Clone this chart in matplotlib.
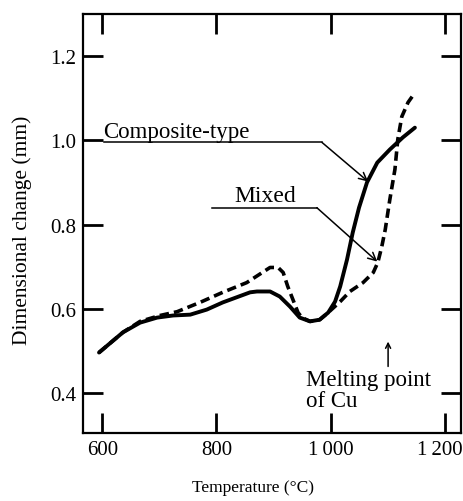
import matplotlib
matplotlib.use("Agg")
import matplotlib.pyplot as plt
import matplotlib.transforms as mtransforms

plt.rcParams['font.family'] = ['Liberation Serif', 'DejaVu Serif']

# Temperature (deg C) and dimensional change (mm)
composite_t = [594, 636, 666, 696, 724, 754, 783, 811, 859, 871, 894, 911, 929,
               946, 964, 981, 996, 1008, 1017, 1029, 1039, 1050, 1064, 1082,
               1104, 1127, 1148]
composite_d = [0.496, 0.544, 0.567, 0.579, 0.584, 0.586, 0.598, 0.615, 0.639,
               0.641, 0.641, 0.629, 0.605, 0.579, 0.570, 0.574, 0.591, 0.617,
               0.653, 0.717, 0.781, 0.840, 0.900, 0.947, 0.978, 1.007, 1.030]

mixed_t = [594, 636, 666, 701, 731, 771, 811, 853, 894, 908, 917, 925, 934,
           943, 950, 964, 981, 996, 1017, 1034, 1057, 1075, 1083, 1090, 1096,
           1104, 1113, 1118, 1125, 1136, 1148]
mixed_d = [0.496, 0.544, 0.570, 0.584, 0.593, 0.615, 0.639, 0.662, 0.698,
           0.698, 0.686, 0.653, 0.622, 0.591, 0.579, 0.570, 0.574, 0.591,
           0.617, 0.641, 0.662, 0.686, 0.710, 0.748, 0.788, 0.859, 0.931,
           1.002, 1.056, 1.090, 1.113]

x_ticks = [600, 800, 1000, 1200]
x_labels = ['600', '800', '1\u2009000', '1\u2009200']
y_ticks = [0.4, 0.6, 0.8, 1.0, 1.2]
y_labels = ['0.4', '0.6', '0.8', '1.0', '1.2']

fig = plt.figure(figsize=(4.64, 5.02), dpi=100)
ax = fig.add_axes([0.179, 0.1355, 0.8147, 0.8347])

ax.plot(composite_t, composite_d, color='black', lw=2.8,
        solid_capstyle='round', solid_joinstyle='round')
ax.plot(mixed_t, mixed_d, color='black', lw=2.6, linestyle=(0, (2.6, 1.4)))

ax.set_xlim(566, 1229)
ax.set_ylim(0.305, 1.30)
ax.set_xticks(x_ticks)
ax.set_xticklabels(x_labels)
ax.set_yticks(y_ticks)
ax.set_yticklabels(y_labels)
ax.tick_params(direction='in', length=14.5, width=2, top=True, right=True,
               labelsize=15, pad=5, colors='black')
for sp in ax.spines.values():
    sp.set_linewidth(1.6)

# last x label sits close to the right edge in the original
last = ax.get_xticklabels()[-1]
last.set_transform(last.get_transform() +
                   mtransforms.ScaledTranslation(-5 / 100, 0, fig.dpi_scale_trans))

# labels with leader lines
ax.text(602, 1.009, 'Composite-type', fontsize=16.5, ha='left', va='baseline')
ax.plot([602, 985], [0.995, 0.995], color='black', lw=1.1)
ax.annotate('', xy=(1066, 0.902), xytext=(985, 0.995),
            arrowprops=dict(arrowstyle='->', lw=1.1, color='black',
                            mutation_scale=14, shrinkA=0, shrinkB=0))

ax.text(831, 0.855, 'Mixed', fontsize=17, ha='left', va='baseline')
ax.plot([792, 976], [0.840, 0.840], color='black', lw=1.1)
ax.annotate('', xy=(1082, 0.712), xytext=(976, 0.840),
            arrowprops=dict(arrowstyle='->', lw=1.1, color='black',
                            mutation_scale=14, shrinkA=0, shrinkB=0))

ax.annotate('', xy=(1101, 0.522), xytext=(1101, 0.463),
            arrowprops=dict(arrowstyle='->', lw=1.1, color='black',
                            mutation_scale=9, shrinkA=0, shrinkB=0))
ax.text(957, 0.420, 'Melting point', fontsize=16.5, ha='left', va='baseline')
ax.text(957, 0.368, 'of Cu', fontsize=16.5, ha='left', va='baseline')

fig.text(253 / 464, 1 - 488 / 502, 'Temperature (\u00b0C)', fontsize=12.5,
         ha='center', va='center')
fig.text(22 / 464, 1 - 230 / 502, 'Dimensional change (mm)', fontsize=15.5,
         rotation=90, ha='center', va='center')

fig.savefig('out.png', dpi=100, facecolor='white')
